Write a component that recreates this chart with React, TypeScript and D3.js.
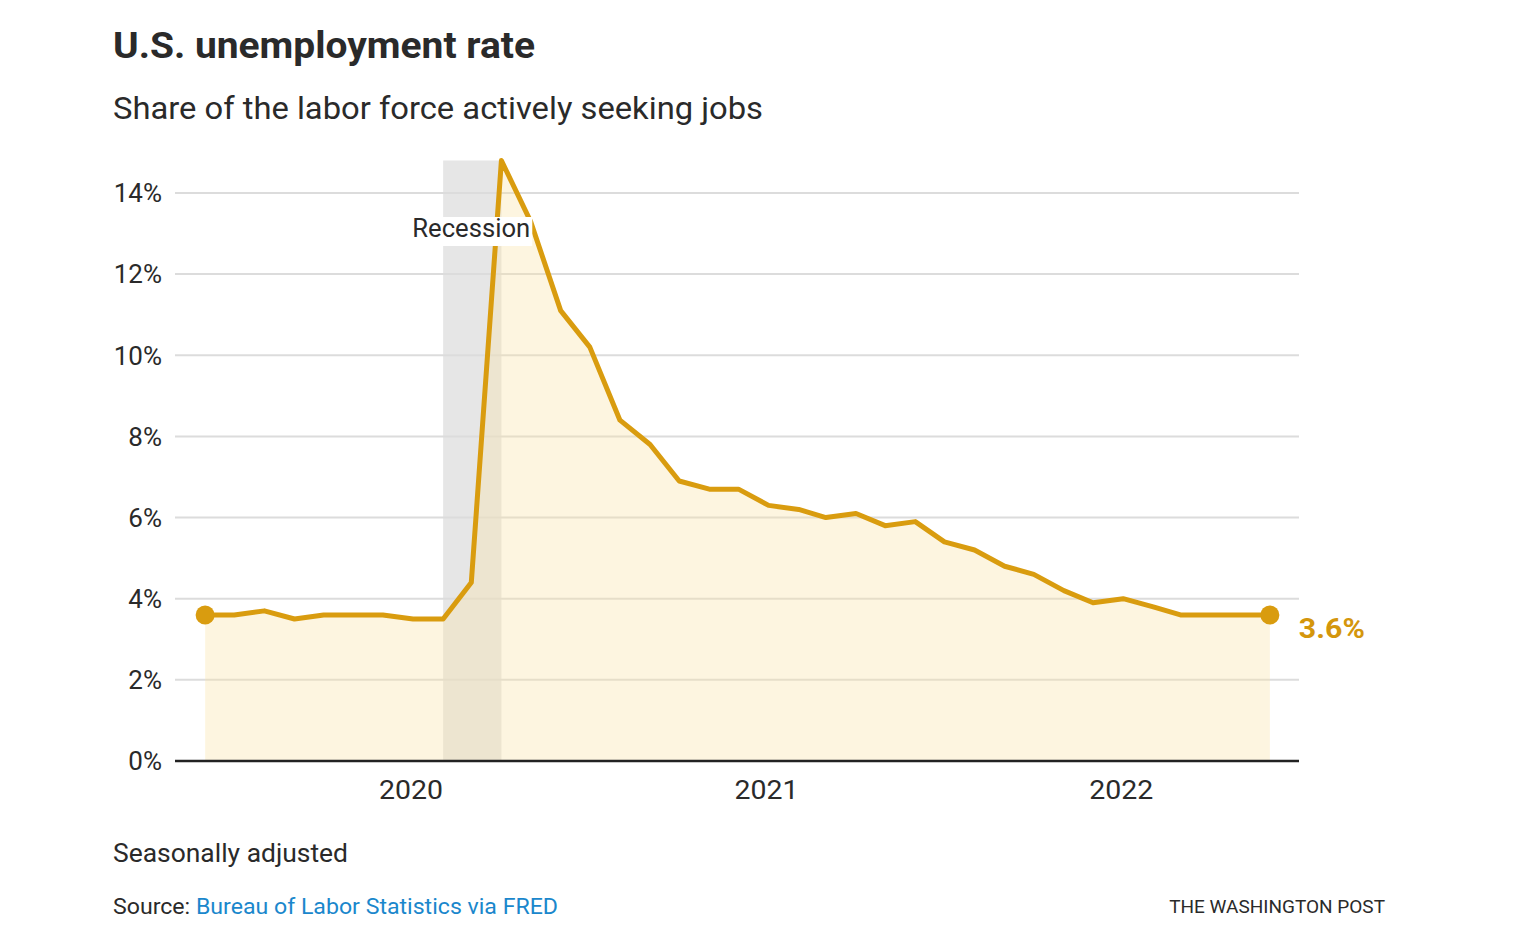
import React from "react";
import * as d3 from "d3";

const startMonth = "2019-06";
const rates: number[] = [
  3.6, 3.6, 3.7, 3.5, 3.6, 3.6, 3.6,
  3.5, 3.5, 4.4, 14.8, 13.3, 11.1, 10.2, 8.4, 7.8, 6.9, 6.7, 6.7,
  6.3, 6.2, 6.0, 6.1, 5.8, 5.9, 5.4, 5.2, 4.8, 4.6, 4.2, 3.9,
  4.0, 3.8, 3.6, 3.6, 3.6, 3.6,
];
const yTicks: number[] = [0, 2, 4, 6, 8, 10, 12, 14];
const xTickYears: number[] = [2020, 2021, 2022];
const recession = { start: "2020-02", end: "2020-04", label: "Recession" };
const domainStart = "2019-05";
const domainEnd = "2022-07";

const parse = d3.timeParse("%Y-%m");
const start = parse(startMonth) as Date;
const data = rates.map((v, i) => ({ date: d3.timeMonth.offset(start, i), value: v }));

const W = 1530;
const H = 934;
const LINE = "#d99c0f";
const TEXT = "#2a2a2a";
const FONT = "Roboto, 'Liberation Sans', sans-serif";

export default function App() {
  const x = d3
    .scaleTime()
    .domain([parse(domainStart) as Date, parse(domainEnd) as Date])
    .range([175, 1299]);
  const yMax = d3.max(rates) as number;
  const y = d3.scaleLinear().domain([0, yMax]).range([761, 160.5]);

  const line = d3
    .line<{ date: Date; value: number }>()
    .x((d) => x(d.date))
    .y((d) => y(d.value));
  const area = d3
    .area<{ date: Date; value: number }>()
    .x((d) => x(d.date))
    .y0(y(0))
    .y1((d) => y(d.value));

  const rs = x(parse(recession.start) as Date);
  const re = x(parse(recession.end) as Date);
  const first = data[0];
  const last = data[data.length - 1];
  const recCx = (rs + re) / 2 - 1;

  return (
    <svg
      width={W}
      height={H}
      style={{ position: "absolute", left: 0, top: 0, background: "#fff" }}
      fontFamily={FONT}
    >
      <text
        x={113}
        y={58}
        fontWeight={700}
        fontSize={37}
        fill={TEXT}
        textLength={422}
        lengthAdjust="spacingAndGlyphs"
      >
        U.S. unemployment rate
      </text>
      <text
        x={113}
        y={119}
        fontSize={31}
        fill={TEXT}
        textLength={650}
        lengthAdjust="spacingAndGlyphs"
      >
        Share of the labor force actively seeking jobs
      </text>

      {/* recession band */}
      <rect x={rs} y={y(yMax)} width={re - rs} height={y(0) - y(yMax)} fill="#e6e6e6" />

      {/* gridlines */}
      {yTicks
        .filter((t) => t !== 0)
        .map((t) => (
          <line key={t} x1={175} x2={1299} y1={y(t)} y2={y(t)} stroke="#dcdcdc" strokeWidth={2} />
        ))}

      <path d={area(data) as string} fill="rgb(250,226,168)" fillOpacity={0.36} />
      <path
        d={line(data) as string}
        fill="none"
        stroke={LINE}
        strokeWidth={5}
        strokeLinejoin="round"
      />
      <circle cx={x(first.date)} cy={y(first.value)} r={9.5} fill={LINE} />
      <circle cx={x(last.date)} cy={y(last.value)} r={9.5} fill={LINE} />

      {/* baseline axis */}
      <line x1={175} x2={1299} y1={y(0)} y2={y(0)} stroke="#222" strokeWidth={2.5} />

      {/* y tick labels */}
      {yTicks.map((t) => (
        <text
          key={t}
          x={162}
          y={y(t)}
          dy="0.36em"
          textAnchor="end"
          fontSize={26}
          fill={TEXT}
        >
          {t}%
        </text>
      ))}

      {/* x tick labels */}
      {xTickYears.map((yr) => (
        <text
          key={yr}
          x={x(new Date(yr, 0, 1)) - 2}
          y={799}
          textAnchor="middle"
          fontSize={26}
          fill={TEXT}
          textLength={64}
          lengthAdjust="spacingAndGlyphs"
        >
          {yr}
        </text>
      ))}

      {/* recession label */}
      <rect x={recCx - 61} y={217} width={122} height={29} fill="#fff" />
      <text
        x={recCx}
        y={237}
        textAnchor="middle"
        fontSize={25}
        fill={TEXT}
        textLength={118}
        lengthAdjust="spacingAndGlyphs"
      >
        {recession.label}
      </text>

      {/* end value label */}
      <text
        x={x(last.date) + 29}
        y={y(last.value) + 23}
        fontSize={27}
        fontWeight={700}
        fill="#d4960c"
        textLength={66}
        lengthAdjust="spacingAndGlyphs"
      >
        {last.value.toFixed(1)}%
      </text>

      <text
        x={113}
        y={862}
        fontSize={26}
        fill={TEXT}
        textLength={235}
        lengthAdjust="spacingAndGlyphs"
      >
        Seasonally adjusted
      </text>
      <text
        x={113}
        y={914}
        fontSize={22}
        fill={TEXT}
        textLength={445}
        lengthAdjust="spacingAndGlyphs"
      >
        Source: <tspan fill="#1a87cc">Bureau of Labor Statistics via FRED</tspan>
      </text>
      <text x={1385} y={913} textAnchor="end" fontSize={19} fill={TEXT}>
        THE WASHINGTON POST
      </text>
    </svg>
  );
}
